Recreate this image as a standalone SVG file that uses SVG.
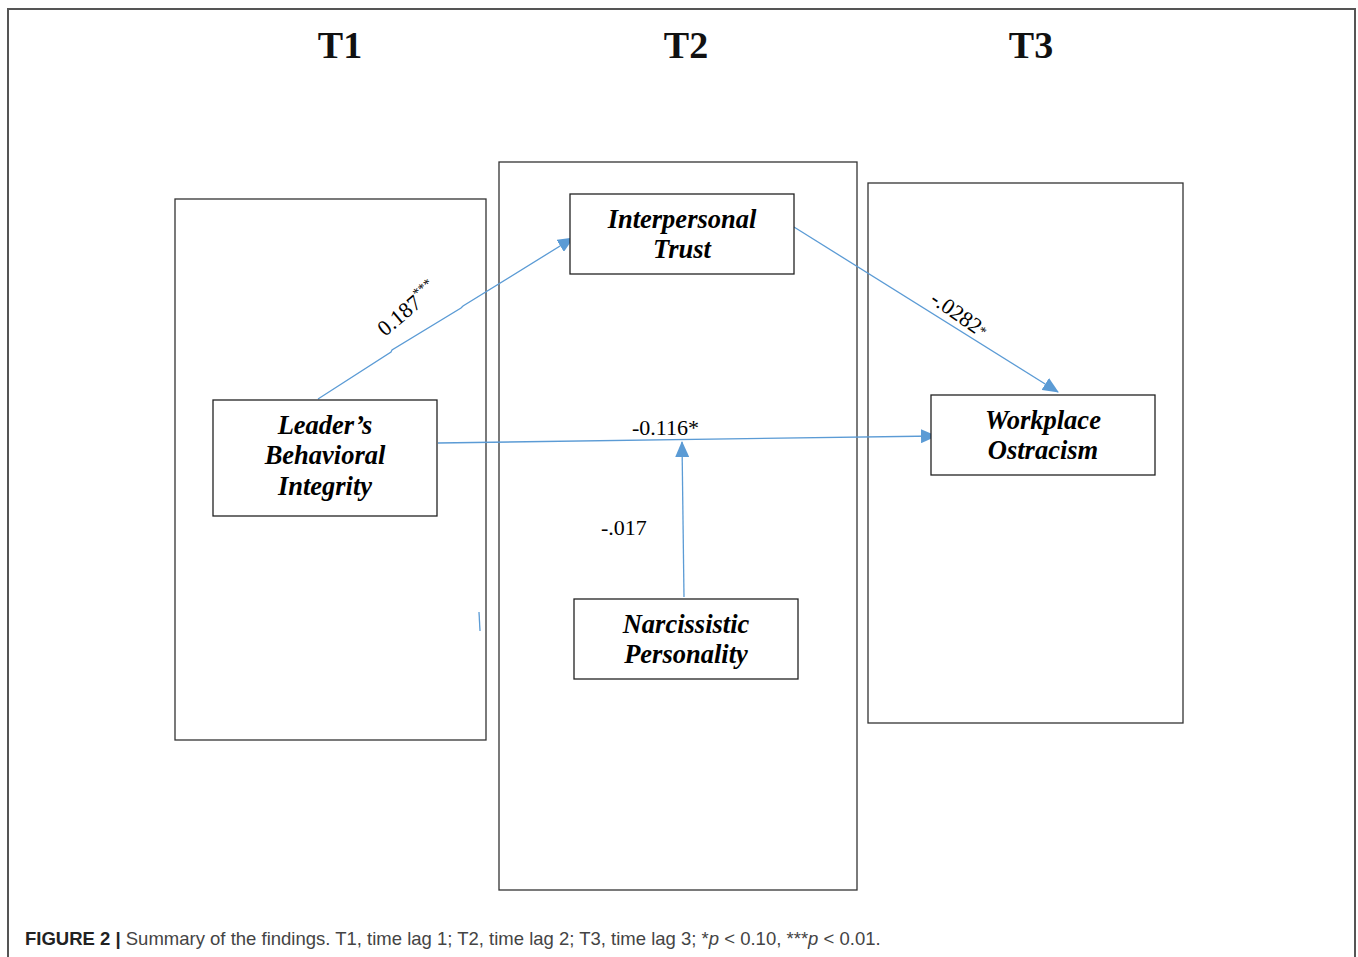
<svg xmlns="http://www.w3.org/2000/svg" width="1358" height="957" viewBox="0 0 1358 957">
<style>
.frame{fill:none;stroke:#555;stroke-width:2}
.col{fill:none;stroke:#333;stroke-width:1.3}
.box{fill:#fff;stroke:#222;stroke-width:1.3}
.nt{font-family:"Liberation Serif",serif;font-weight:bold;font-style:italic;font-size:26.5px;text-anchor:middle;fill:#000}
.hd{font-family:"Liberation Serif",serif;font-weight:bold;font-size:38px;text-anchor:middle;fill:#111}
.lb{font-family:"Liberation Serif",serif;font-size:22px;fill:#000}
.cn{fill:none;stroke:#5B9BD5;stroke-width:1.3}
.cap{font-family:"Liberation Sans",Arial,sans-serif;font-size:18.5px;fill:#444}
</style>
<defs>
<marker id="ah" viewBox="0 0 16 14" refX="15" refY="7" markerWidth="16" markerHeight="14" markerUnits="userSpaceOnUse" orient="auto">
<path d="M0,0 L16,7 L0,14 z" fill="#5B9BD5"/>
</marker>
</defs>
<rect width="1358" height="957" fill="#fff"/>
<path class="frame" d="M8,957 V9 H1355 V957"/>
<text class="hd" x="340" y="58">T1</text>
<text class="hd" x="686" y="58">T2</text>
<text class="hd" x="1031" y="58">T3</text>
<rect class="col" x="175" y="199" width="311" height="541"/>
<rect class="col" x="499" y="162" width="358" height="728"/>
<rect class="col" x="868" y="183" width="315" height="540"/>
<g id="connectors">
<path class="cn" d="M318,399 L391,352 L392,350 L461,308 L463,306 L573,238" marker-end="url(#ah)"/>
<path class="cn" d="M794,227 L1058,392" marker-end="url(#ah)"/>
<path class="cn" d="M438,443 L936,436" marker-end="url(#ah)"/>
<path class="cn" d="M684,597 L682,442" marker-end="url(#ah)"/>
<path class="cn" d="M479,612 L480,631"/>
<text class="lb" transform="translate(385,337) rotate(-40)">0.187<tspan font-size="14" dy="-9">***</tspan></text>
<text class="lb" transform="translate(929,302) rotate(35)">-.0282<tspan font-size="14" dy="-2">*</tspan></text>
<text class="lb" x="632" y="435">-0.116*</text>
<text class="lb" x="601" y="535">-.017</text>
</g>
<g id="leader">
<rect class="box" x="213" y="400" width="224" height="116"/>
<text class="nt" x="325" y="434">Leader’s</text>
<text class="nt" x="325" y="464">Behavioral</text>
<text class="nt" x="325" y="495">Integrity</text>
</g>
<g id="trust">
<rect class="box" x="570" y="194" width="224" height="80"/>
<text class="nt" x="682" y="228">Interpersonal</text>
<text class="nt" x="682" y="258">Trust</text>
</g>
<g id="ostracism">
<rect class="box" x="931" y="395" width="224" height="80"/>
<text class="nt" x="1043" y="429">Workplace</text>
<text class="nt" x="1043" y="459">Ostracism</text>
</g>
<g id="narcissism">
<rect class="box" x="574" y="599" width="224" height="80"/>
<text class="nt" x="686" y="633">Narcissistic</text>
<text class="nt" x="686" y="663">Personality</text>
</g>
<text class="cap" x="25" y="945"><tspan font-weight="bold" fill="#222">FIGURE 2 |</tspan> Summary of the findings. T1, time lag 1; T2, time lag 2; T3, time lag 3; *<tspan font-style="italic">p</tspan> &lt; 0.10, ***<tspan font-style="italic">p</tspan> &lt; 0.01.</text>
</svg>
